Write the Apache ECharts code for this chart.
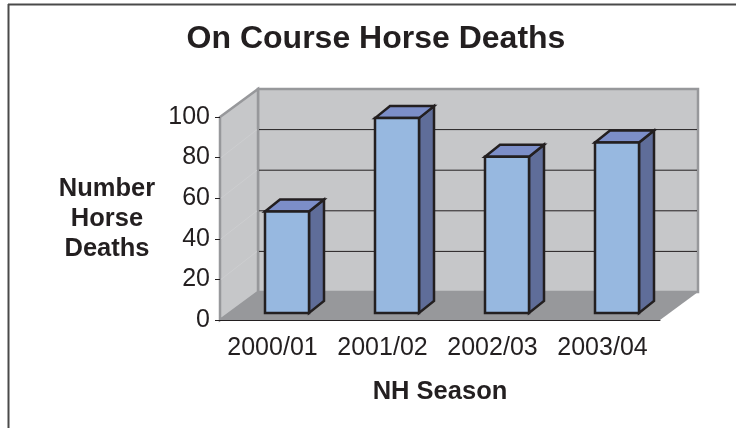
<!DOCTYPE html>
<html>
<head>
<meta charset="utf-8">
<style>html,body{margin:0;padding:0;background:#fff}#c{width:736px;height:428px}</style>
<script src="https://cdn.jsdelivr.net/npm/echarts@6/dist/echarts.min.js"></script>
</head>
<body>
<div id="c"></div>
<script>
const seasons = ['2000/01', '2001/02', '2002/03', '2003/04'];
const deaths = [50, 96, 77, 84];
const gridValues = [20, 40, 60, 80];

const chart = echarts.init(document.getElementById('c'), null, {renderer: 'canvas'});
const BD = [38, -28];            // depth of the frame
const BO = [12, -7];             // bar offset into the frame
const BW = 44, DX = 15, DY = -12;
const INK = '#231f20';

function frame(params, api) {
  const cs = params.coordSys;
  const L = cs.x, R = cs.x + cs.width;
  const y0 = api.coord([0, 0])[1], yT = api.coord([0, 100])[1];
  const poly = (pts, fill, stroke, w) => ({type: 'polygon', shape: {points: pts},
    style: {fill, stroke: stroke || null, lineWidth: w || 0, lineJoin: 'miter'}});
  const line = (x1, y1, x2, y2, c, w) => ({type: 'line', shape: {x1, y1, x2, y2},
    style: {stroke: c, lineWidth: w}});
  const children = [
    poly([[L + BD[0], yT + BD[1]], [R + BD[0], yT + BD[1]], [R + BD[0], y0 + BD[1]], [L + BD[0], y0 + BD[1]]], '#c6c7c9', '#97989b', 2.5),
    poly([[L, yT], [L + BD[0], yT + BD[1]], [L + BD[0], y0 + BD[1]], [L, y0]], '#c6c7c9', '#97989b', 2.5),
    poly([[L, y0], [L + BD[0], y0 + BD[1]], [R + BD[0], y0 + BD[1]], [R, y0]], '#97989b')
  ];
  gridValues.forEach(v => {
    const y = api.coord([0, v])[1];
    children.push(line(L + 1, y, L + BD[0] - 1, y + BD[1], '#cdced0', 1));
    children.push(line(L + BD[0] + 1, y + BD[1], R + BD[0] - 1, y + BD[1], INK, 1));
  });
  return {type: 'group', children};
}

function bar3d(params, api) {
  const c = api.coord([api.value(0), api.value(1)]);
  const b = api.coord([api.value(0), 0]);
  const x1 = c[0] + BO[0] - BW / 2, x2 = x1 + BW;
  const yt = c[1] + BO[1], yb = b[1] + BO[1];
  const st = f => ({fill: f, stroke: INK, lineWidth: 2.5, lineJoin: 'miter'});
  return {type: 'group', children: [
    {type: 'polygon', shape: {points: [[x2, yt], [x2 + DX, yt + DY], [x2 + DX, yb + DY], [x2, yb]]}, style: st('#5f6d99')},
    {type: 'polygon', shape: {points: [[x1, yt], [x1 + DX, yt + DY], [x2 + DX, yt + DY], [x2, yt]]}, style: st('#7c8ec8')},
    {type: 'rect', shape: {x: x1, y: yt, width: BW, height: yb - yt}, style: st('#97b8e0')}
  ]};
}

chart.setOption({
  animation: false,
  backgroundColor: '#fff',
  textStyle: {fontFamily: 'Liberation Sans'},
  title: {
    text: 'On Course Horse Deaths', left: 371, top: 18, textAlign: 'center',
    textStyle: {fontFamily: 'Liberation Sans', fontSize: 32, fontWeight: 'bold', color: INK}
  },
  grid: {left: 220, top: 117, width: 440, height: 203, containLabel: false},
  xAxis: {
    type: 'category', data: seasons, z: 5,
    axisLine: {show: true, lineStyle: {color: INK, width: 1}},
    axisTick: {show: false},
    axisLabel: {fontSize: 25, color: INK, margin: 16, padding: [0, 5, 0, 0], interval: 0, hideOverlap: false},
    name: 'NH Season', nameLocation: 'middle', nameGap: 59,
    nameTextStyle: {fontSize: 25.5, fontWeight: 'bold', color: INK}
  },
  yAxis: {
    type: 'value', min: 0, max: 100, interval: 20, z: 5,
    axisLine: {show: true, lineStyle: {color: '#97989b', width: 2}},
    axisTick: {show: true, length: 5, lineStyle: {color: INK, width: 1}},
    axisLabel: {fontSize: 25, color: INK, margin: 10, padding: [0, 0, 5, 0]},
    splitLine: {show: false},
    name: 'Number\nHorse\nDeaths', nameLocation: 'middle', nameRotate: 0, nameGap: 113,
    nameTextStyle: {fontSize: 25.5, fontWeight: 'bold', color: INK, lineHeight: 30, align: 'center'}
  },
  graphic: [
    {type: 'line', silent: true, shape: {x1: 8.5, y1: 4, x2: 8.5, y2: 428}, style: {stroke: '#4a4a4a', lineWidth: 2}},
    {type: 'line', silent: true, shape: {x1: 8, y1: 4.5, x2: 736, y2: 4.5}, style: {stroke: '#4a4a4a', lineWidth: 2}}
  ],
  series: [
    {type: 'custom', renderItem: frame, data: [[0, 0]], z: 1, silent: true, clip: false},
    {type: 'custom', renderItem: bar3d, data: seasons.map((s, i) => [i, deaths[i]]), encode: {x: 0, y: 1}, z: 2, silent: true, clip: false}
  ]
});
</script>
</body>
</html>
